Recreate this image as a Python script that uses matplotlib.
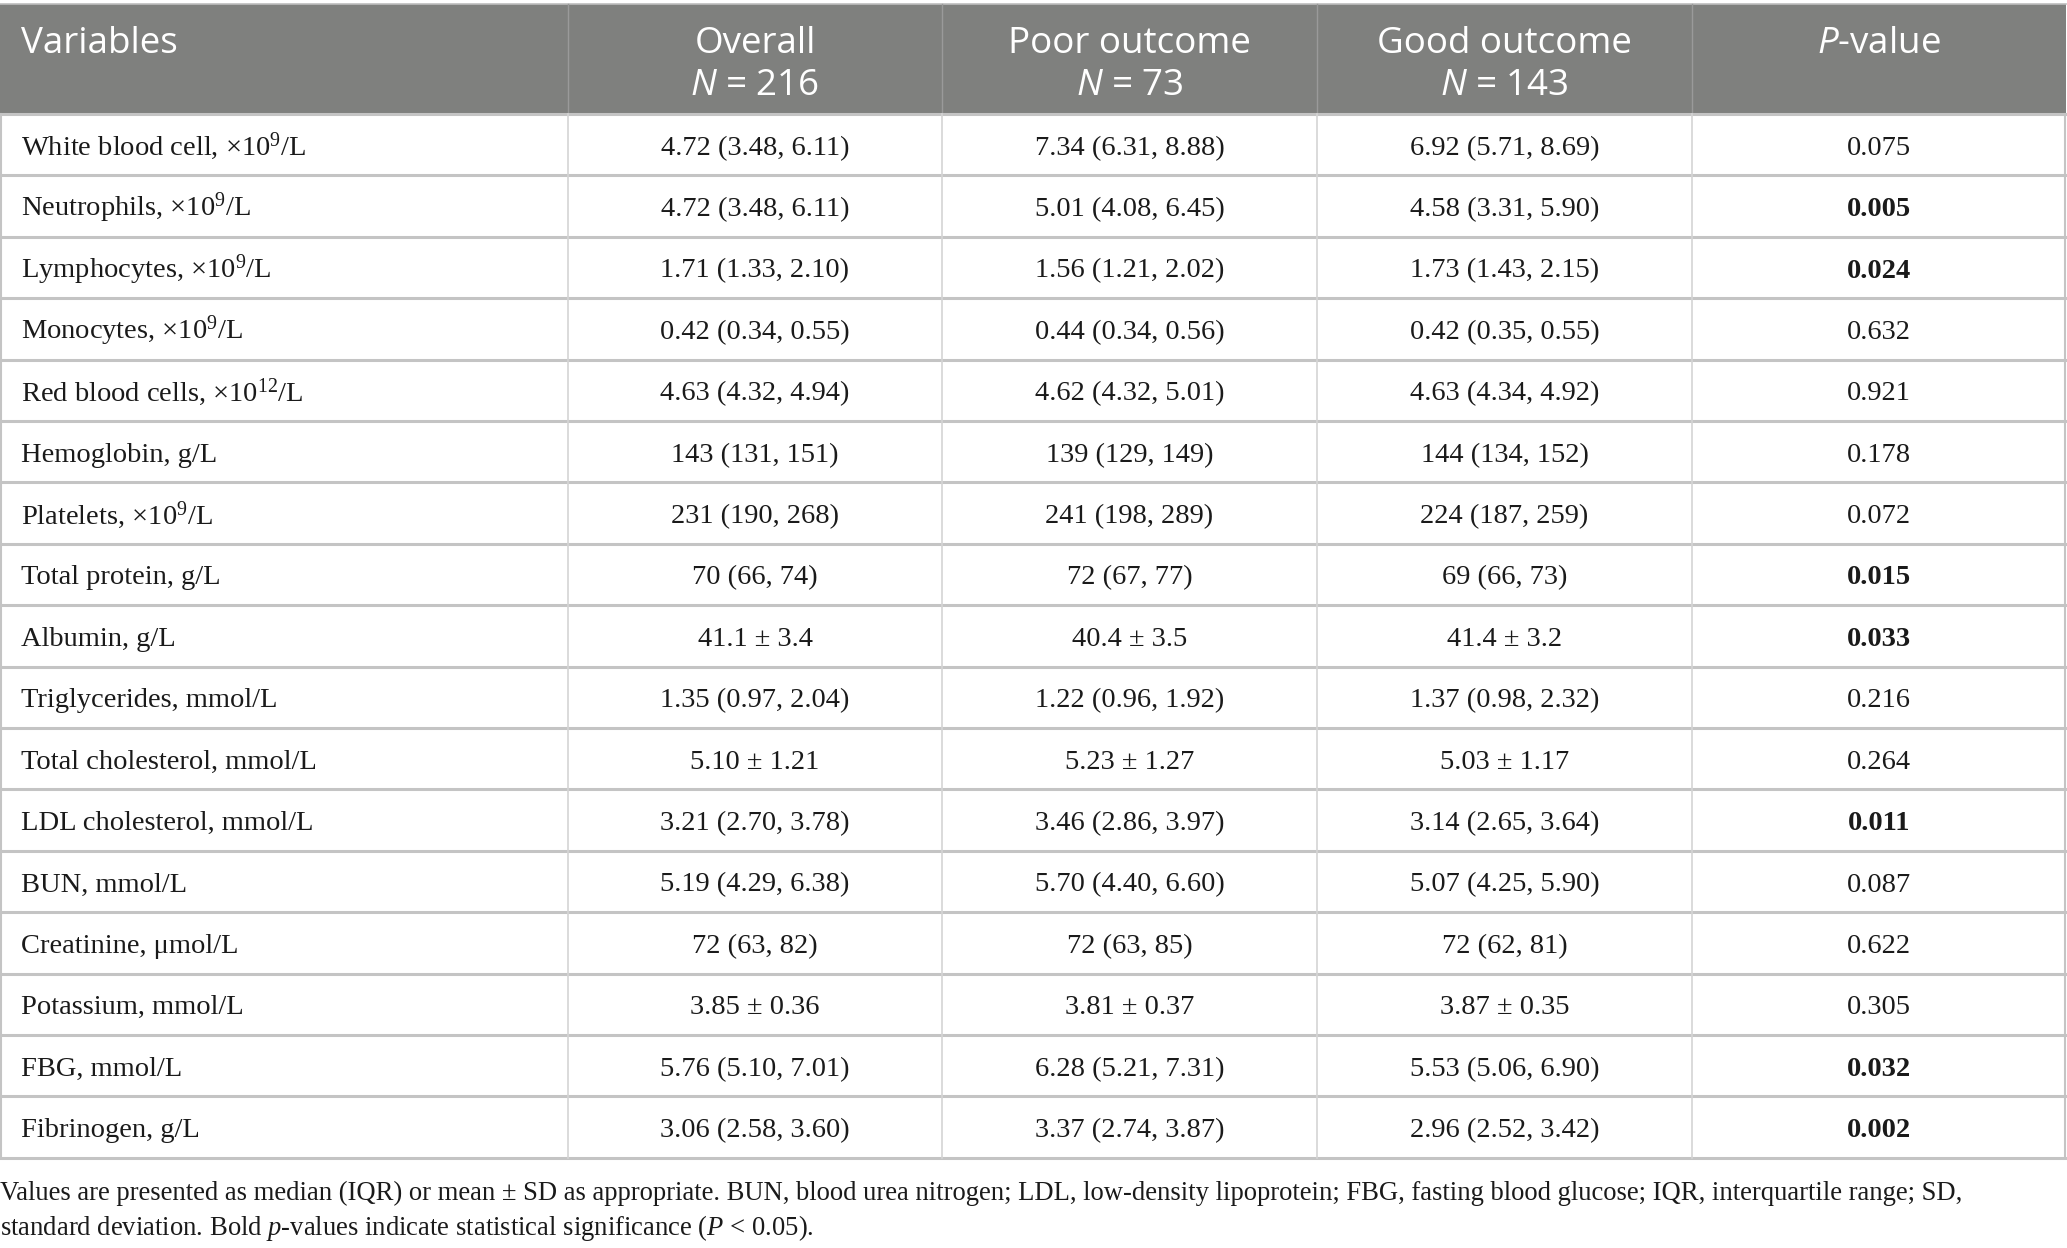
import matplotlib
matplotlib.use("Agg")
import matplotlib.pyplot as plt
from matplotlib.patches import Rectangle

plt.rcParams['mathtext.fontset'] = 'custom'
plt.rcParams['mathtext.rm'] = 'Liberation Serif'
plt.rcParams['mathtext.it'] = 'Liberation Serif:italic'
plt.rcParams['mathtext.bf'] = 'Liberation Serif:bold'
plt.rcParams['mathtext.sf'] = 'Open Sans:italic'

# table content
headers_top = ["Variables", "Overall", "Poor outcome", "Good outcome", "$\\mathsf{P}$-value"]
headers_n = ["", "$\\mathsf{N}$ = 216", "$\\mathsf{N}$ = 73", "$\\mathsf{N}$ = 143", ""]
variables = [
    "White blood cell, ×10$^{9}$/L", "Neutrophils, ×10$^{9}$/L", "Lymphocytes, ×10$^{9}$/L",
    "Monocytes, ×10$^{9}$/L", "Red blood cells, ×10$^{12}$/L", "Hemoglobin, g/L",
    "Platelets, ×10$^{9}$/L", "Total protein, g/L", "Albumin, g/L", "Triglycerides, mmol/L",
    "Total cholesterol, mmol/L", "LDL cholesterol, mmol/L", "BUN, mmol/L",
    "Creatinine, μmol/L", "Potassium, mmol/L", "FBG, mmol/L", "Fibrinogen, g/L",
]
overall = ["4.72 (3.48, 6.11)", "4.72 (3.48, 6.11)", "1.71 (1.33, 2.10)", "0.42 (0.34, 0.55)",
           "4.63 (4.32, 4.94)", "143 (131, 151)", "231 (190, 268)", "70 (66, 74)",
           "41.1 ± 3.4", "1.35 (0.97, 2.04)", "5.10 ± 1.21", "3.21 (2.70, 3.78)",
           "5.19 (4.29, 6.38)", "72 (63, 82)", "3.85 ± 0.36", "5.76 (5.10, 7.01)",
           "3.06 (2.58, 3.60)"]
poor = ["7.34 (6.31, 8.88)", "5.01 (4.08, 6.45)", "1.56 (1.21, 2.02)", "0.44 (0.34, 0.56)",
        "4.62 (4.32, 5.01)", "139 (129, 149)", "241 (198, 289)", "72 (67, 77)",
        "40.4 ± 3.5", "1.22 (0.96, 1.92)", "5.23 ± 1.27", "3.46 (2.86, 3.97)",
        "5.70 (4.40, 6.60)", "72 (63, 85)", "3.81 ± 0.37", "6.28 (5.21, 7.31)",
        "3.37 (2.74, 3.87)"]
good = ["6.92 (5.71, 8.69)", "4.58 (3.31, 5.90)", "1.73 (1.43, 2.15)", "0.42 (0.35, 0.55)",
        "4.63 (4.34, 4.92)", "144 (134, 152)", "224 (187, 259)", "69 (66, 73)",
        "41.4 ± 3.2", "1.37 (0.98, 2.32)", "5.03 ± 1.17", "3.14 (2.65, 3.64)",
        "5.07 (4.25, 5.90)", "72 (62, 81)", "3.87 ± 0.35", "5.53 (5.06, 6.90)",
        "2.96 (2.52, 3.42)"]
p_values = ["0.075", "0.005", "0.024", "0.632", "0.921", "0.178", "0.072", "0.015", "0.033",
            "0.216", "0.264", "0.011", "0.087", "0.622", "0.305", "0.032", "0.002"]
footnote = [
    "Values are presented as median (IQR) or mean ± SD as appropriate. BUN, blood urea nitrogen; "
    "LDL, low-density lipoprotein; FBG, fasting blood glucose; IQR, interquartile range; SD,",
    "standard deviation. Bold $p$-values indicate statistical significance ($P$ < 0.05).",
]

W, H = 2067, 1248
fig = plt.figure(figsize=(W / 100, H / 100), dpi=100)
ax = fig.add_axes([0, 0, 1, 1])
ax.set_xlim(0, W)
ax.set_ylim(H, 0)
ax.axis('off')

col_edges = [0, 568, 942, 1317, 1692, 2066]
head_top, head_bot = 4, 114
row_h = 61.4
n = len(variables)
grid = '#c4c4c4'
body_fs = 20.5
ink = '#1a1a1a'

# header
ax.add_patch(Rectangle((0, head_top), W - 1, head_bot - head_top, color='#7f807e', lw=0))
ax.plot([0, W - 1], [head_top, head_top], color='#bdbdbd', lw=1.2)
for j in range(5):
    if j == 0:
        x, ha = 21, 'left'
    else:
        x, ha = (col_edges[j] + col_edges[j + 1]) / 2, 'center'
    ax.text(x, 53, headers_top[j], ha=ha, va='baseline', color='white',
            family='Open Sans', fontsize=26.5)
    if headers_n[j]:
        ax.text(x, 95, headers_n[j], ha=ha, va='baseline', color='white',
                family='Open Sans', fontsize=26.5)
for j in range(1, 5):
    ax.plot([col_edges[j]] * 2, [head_top, head_bot], color='#9a9a9a', lw=1)

# body
for i in range(n):
    yb = head_bot + row_h * (i + 0.5) + 10
    ax.text(21, yb, variables[i], ha='left', va='baseline', family='Liberation Serif',
            fontsize=body_fs, color=ink)
    for j, vals in enumerate([overall, poor, good]):
        xc = (col_edges[j + 1] + col_edges[j + 2]) / 2
        ax.text(xc, yb, vals[i], ha='center', va='baseline', family='Liberation Serif',
                fontsize=body_fs, color=ink)
    bold = float(p_values[i]) < 0.05
    ax.text((col_edges[4] + col_edges[5]) / 2, yb, p_values[i], ha='center', va='baseline',
            family='Liberation Serif', fontsize=body_fs, color=ink,
            fontweight='bold' if bold else 'normal')

for i in range(n + 1):
    y = head_bot + row_h * i
    ax.plot([0, W - 1], [y, y], color=grid, lw=2.2)
table_bot = head_bot + row_h * n
for x in col_edges[1:5]:
    ax.plot([x, x], [head_bot, table_bot], color='#d4d4d4', lw=1.2)
ax.plot([1, 1], [head_bot, table_bot], color=grid, lw=1.5)
ax.plot([W - 2, W - 2], [head_bot, table_bot], color=grid, lw=1.5)

# footnote
ax.text(0, 1200, footnote[0], ha='left', va='baseline', family='Liberation Serif',
        fontsize=19.2, color=ink)
ax.text(0, 1235, footnote[1], ha='left', va='baseline', family='Liberation Serif',
        fontsize=19.2, color=ink)

fig.savefig('out.png', dpi=100)
